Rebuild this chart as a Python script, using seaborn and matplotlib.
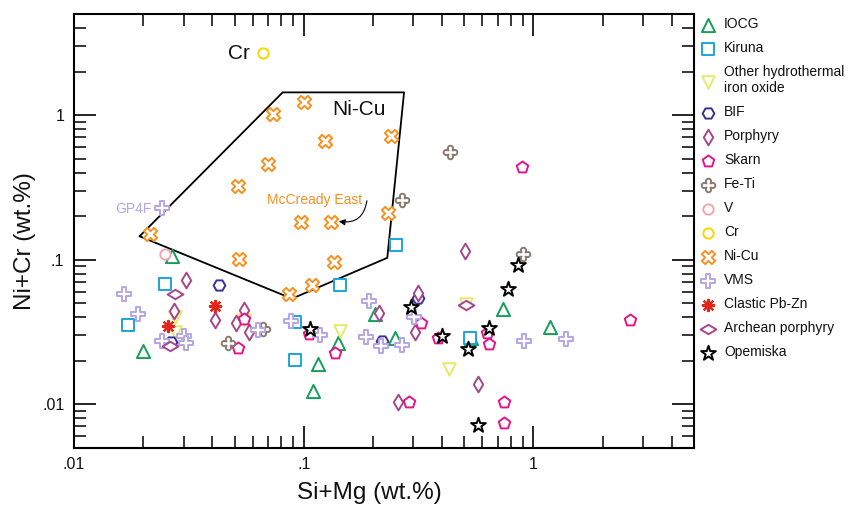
import numpy as np
import pandas as pd
import matplotlib
matplotlib.use("Agg")
import matplotlib.pyplot as plt
import seaborn as sns
from matplotlib.markers import MarkerStyle
from matplotlib.path import Path
from matplotlib.transforms import Affine2D
from matplotlib.ticker import LogLocator, FuncFormatter, NullFormatter

# ---- deposit-type compositions (wt.%) ----
iocg_x = [0.0268, 0.0199, 0.1155, 0.1094, 0.141, 0.204, 0.249, 0.534, 0.735, 1.175]
iocg_y = [0.105, 0.0233, 0.0189, 0.0124, 0.0266, 0.0422, 0.0288, 0.0288, 0.0452, 0.0343]

kiruna_x = [0.0249, 0.0172, 0.092, 0.0913, 0.1432, 0.2514, 0.529]
kiruna_y = [0.0672, 0.0351, 0.037, 0.0202, 0.0662, 0.1269, 0.0288]

other_x = [0.0276, 0.0274, 0.0547, 0.1432, 0.508, 0.427]
other_y = [0.0403, 0.0315, 0.038, 0.032, 0.049, 0.0176]

bif_x = [0.0429, 0.0264, 0.2198, 0.3146]
bif_y = [0.0662, 0.0269, 0.0271, 0.0544]

porphyry_x = [0.0306, 0.0272, 0.0411, 0.0551, 0.0506, 0.0579, 0.2126, 0.3146,
              0.3044, 0.5047, 0.5715, 0.2572]
porphyry_y = [0.072, 0.044, 0.0382, 0.0447, 0.0366, 0.0315, 0.0429, 0.0589,
              0.0317, 0.114, 0.0137, 0.0103]

skarn_x = [0.0515, 0.0551, 0.1052, 0.1366, 0.3232, 0.3823, 0.2877, 0.747, 0.747,
           2.625, 0.631, 0.6426, 0.889]
skarn_y = [0.0246, 0.0386, 0.0304, 0.0225, 0.0366, 0.0284, 0.0103, 0.0103, 0.00736,
           0.0382, 0.0309, 0.0262, 0.44]

feti_x = [0.434, 0.267, 0.898, 0.0467, 0.0662]
feti_y = [0.553, 0.2565, 0.110, 0.0264, 0.0333]

v_x = [0.0250]
v_y = [0.110]

cr_x = [0.0662]
cr_y = [2.665]

nicu_x = [0.0999, 0.0737, 0.1244, 0.2399, 0.0697, 0.0520, 0.0973, 0.1321, 0.2318,
          0.0215, 0.0525, 0.1348, 0.1087, 0.0866]
nicu_y = [1.235, 1.011, 0.662, 0.720, 0.457, 0.322, 0.182, 0.181, 0.2087,
          0.1504, 0.1016, 0.0958, 0.0665, 0.0574]

vms_x = [0.0241, 0.01653, 0.0189, 0.0242, 0.0302, 0.0306, 0.0631, 0.0884, 0.1183,
         0.1922, 0.1872, 0.2163, 0.2689, 0.3021, 0.9137, 1.389]
vms_y = [0.2273, 0.0574, 0.0418, 0.0273, 0.0296, 0.0264, 0.0326, 0.0376, 0.0301,
         0.0516, 0.0293, 0.0252, 0.0257, 0.040, 0.0271, 0.0281]

clastic_x = [0.0257, 0.0411]
clastic_y = [0.0347, 0.0476]

archean_x = [0.0274, 0.0262, 0.508]
archean_y = [0.0574, 0.0252, 0.0482]

opemiska_x = [0.1069, 0.2923, 0.4019, 0.5166, 0.6426, 0.773, 0.8543, 0.5715]
opemiska_y = [0.0333, 0.0469, 0.0296, 0.0242, 0.0338, 0.0628, 0.0909, 0.0072]

# Ni-Cu field outline
field_x = [0.0193, 0.0810, 0.2734, 0.2311, 0.0889, 0.0193]
field_y = [0.1448, 1.434, 1.434, 0.1027, 0.0536, 0.1448]

tick_values = [0.01, 0.1, 1]
tick_labels = [".01", ".1", "1"]

# ---- marker shapes ----
def rounded_cross(w=0.19, n=12):
    """Plus sign with semicircular arm ends."""
    L = 0.5
    pts = []
    for ang in (90, 180, 270, 0):
        a = np.deg2rad(ang)
        ux, uy = np.cos(a), np.sin(a)
        px, py = -uy, ux
        base = L - w
        cx, cy = ux * base, uy * base
        start = np.arctan2(-py, -px)
        for t in np.linspace(0, np.pi, n):
            th = start + t
            pts.append((cx + w * np.cos(th), cy + w * np.sin(th)))
        nx, ny = np.cos(a + np.pi / 2), np.sin(a + np.pi / 2)
        pts.append((ux * w * 0.8 + nx * w * 0.8, uy * w * 0.8 + ny * w * 0.8))
    pts.append(pts[0])
    codes = [Path.MOVETO] + [Path.LINETO] * (len(pts) - 2) + [Path.CLOSEPOLY]
    return Path(pts, codes)

horiz_diamond = MarkerStyle("d", transform=Affine2D().rotate_deg(90))

groups = [
    ("IOCG", iocg_x, iocg_y, "^", "#159d5a", 90),
    ("Kiruna", kiruna_x, kiruna_y, "s", "#1ea4dc", 64),
    ("Other hydrothermal\niron oxide", other_x, other_y, "v", "#e4ea6a", 82),
    ("BIF", bif_x, bif_y, "H", "#3b2f99", 72),
    ("Porphyry", porphyry_x, porphyry_y, "d", "#a4478f", 64),
    ("Skarn", skarn_x, skarn_y, "p", "#e3158b", 76),
    ("Fe-Ti", feti_x, feti_y, rounded_cross(), "#8a7b6f", 95),
    ("V", v_x, v_y, "o", "#f3a6ae", 55),
    ("Cr", cr_x, cr_y, "o", "#f5d800", 55),
    ("Ni-Cu", nicu_x, nicu_y, "X", "#f7901e", 92),
    ("VMS", vms_x, vms_y, "P", "#b4a6e8", 88),
    ("Clastic Pb-Zn", clastic_x, clastic_y, (8, 2, 0), "#e3261c", 64),
    ("Archean porphyry", archean_x, archean_y, horiz_diamond, "#a4478f", 64),
    ("Opemiska", opemiska_x, opemiska_y, "*", "#000000", 125),
]

sns.set_style("ticks")
plt.rcParams["font.family"] = ["Liberation Sans", "DejaVu Sans"]

fig = plt.figure(figsize=(8.56, 5.08), dpi=100)
ax = fig.add_axes([74 / 856, 1 - 447.5 / 508, 620 / 856, 433.5 / 508])

# Ni-Cu field
ax.plot(field_x, field_y, color="black", lw=1.3, zorder=1)

for label, xs, ys, marker, color, size in groups:
    df = pd.DataFrame({"x": xs, "y": ys})
    if isinstance(marker, tuple):
        sns.scatterplot(data=df, x="x", y="y", marker=marker, s=size,
                        color=color, linewidth=1.7, ax=ax, label=label,
                        legend=False, zorder=3)
    else:
        sns.scatterplot(data=df, x="x", y="y", marker=marker, s=size,
                        facecolor="white", edgecolor=color, linewidth=1.4,
                        ax=ax, label=label, legend=False, zorder=3)

ax.set_xscale("log")
ax.set_yscale("log")
ax.set_xlim(0.01, 5)
ax.set_ylim(0.005, 5)

fmt = FuncFormatter(lambda v, _: dict(zip(tick_values, tick_labels)).get(
    round(v, 6), ""))
for axis in (ax.xaxis, ax.yaxis):
    axis.set_major_locator(LogLocator(base=10, numticks=10))
    axis.set_minor_locator(LogLocator(base=10, subs=np.arange(2, 10), numticks=20))
    axis.set_major_formatter(fmt)
    axis.set_minor_formatter(NullFormatter())

ax.tick_params(which="both", direction="in", top=True, right=True,
               color="black", labelsize=11.5, labelcolor="#111111")
ax.tick_params(which="major", length=16, width=1.2, pad=7)
ax.tick_params(which="minor", length=8.5, width=1.1)
for sp in ax.spines.values():
    sp.set_linewidth(1.5)
    sp.set_color("black")
    sp.set_visible(True)

ax.set_xlabel("Si+Mg (wt.%)", fontsize=17.5, va="center", color="#111111")
ax.set_ylabel("Ni+Cr (wt.%)", fontsize=17.5, va="center", color="#111111")
ax.xaxis.set_label_coords(0.477, -0.105)
ax.yaxis.set_label_coords(-0.079, 0.476)

# text labels inside the plot
ax.text(0.0520, 2.676, "Cr", fontsize=15, ha="center", va="center", color="#111111")
ax.text(0.1739, 1.083, "Ni-Cu", fontsize=15, ha="center", va="center", color="#111111")
ax.text(0.1111, 0.2594, "McCready East", fontsize=10, ha="center", va="center",
        color="#f7901e")
ax.annotate("", xy=(0.1422, 0.1837), xytext=(0.1884, 0.2551),
            arrowprops=dict(arrowstyle="-|>", color="black", lw=0.8,
                            mutation_scale=9,
                            connectionstyle="arc3,rad=-0.5",
                            shrinkA=0, shrinkB=0))
ax.text(0.0181, 0.2247, "GP4F", fontsize=10, ha="center", va="center",
        color="#b4a6e8")

leg = ax.legend(loc="upper left", bbox_to_anchor=(0.819, 0.966),
                bbox_transform=fig.transFigure, frameon=False, fontsize=10,
                borderpad=0, borderaxespad=0, handlelength=1.0,
                handletextpad=0.65, labelspacing=0.72, scatterpoints=1)
for t in leg.get_texts():
    t.set_color("#111111")

fig.savefig("out.png", dpi=100)
